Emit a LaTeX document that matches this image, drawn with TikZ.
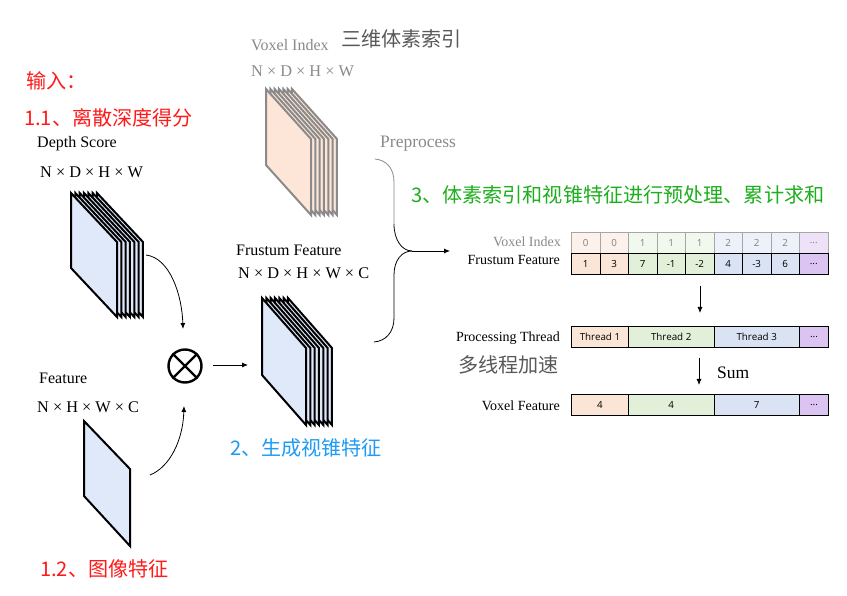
\documentclass[tikz,border=0pt]{standalone}
\usepackage{fontspec}
\setmainfont{Liberation Serif}
\newfontfamily\cjk{Noto Sans CJK SC}
\newfontfamily\cellfont{Open Sans}
\usetikzlibrary{arrows.meta}
\definecolor{peach}{HTML}{FBE5D6}
\definecolor{mint}{HTML}{E2F0D9}
\definecolor{sky}{HTML}{DAE3F3}
\definecolor{violet}{HTML}{DCC4F2}
\definecolor{peachL}{HTML}{FDF2EB}
\definecolor{mintL}{HTML}{F1F8ED}
\definecolor{skyL}{HTML}{EDF1F9}
\definecolor{violetL}{HTML}{EEE2F9}
\definecolor{plane}{HTML}{E0E9FA}
\definecolor{planeO}{HTML}{FDE6D8}
\definecolor{dim}{HTML}{8A8A8A}
\definecolor{cnred}{HTML}{FF1A1A}
\definecolor{cnblue}{HTML}{1E9BF5}
\definecolor{cngreen}{HTML}{1DAF1D}
\definecolor{cngrey}{HTML}{595959}
\newcommand{\elp}{...}
\tikzset{
  lab/.style={font=\fontsize{16}{18}\selectfont,inner sep=0pt,anchor=west},
  dimlab/.style={lab,font=\fontsize{16.3}{18}\selectfont},
  rowlab/.style={font=\fontsize{14}{16}\selectfont,inner sep=0pt,anchor=east},
  cn/.style={font=\fontsize{20.1}{24}\cjk\selectfont,inner sep=0pt,anchor=west},
  cell/.style={draw=black,line width=.9pt,inner sep=0pt,minimum height=21pt,anchor=north west,
     font=\fontsize{9.8}{11}\cellfont\selectfont},
  fadecell/.style={cell,draw=black!35,text=black!50},
  link/.style={line width=.8pt,-{Latex[length=6pt,width=5pt]}},
  plain/.style={line width=.8pt},
}
\newcommand{\stackplanes}[8]{% x,y top-left ; w ; h ; drop ; fill ; edge ; width
  \foreach \i in {6,5,4,3,2,1,0}{
    \draw[line width=#8,line join=miter,draw=#7,fill=#6]
      ({#1+\i*4.33},#2) -- ({#1+\i*4.33+#3},{#2+#5}) -- ({#1+\i*4.33+#3},{#2+#5+#4}) -- ({#1+\i*4.33},{#2+#4}) -- cycle;
  }
}
\begin{document}
\begin{tikzpicture}[x=1pt,y=-1pt]
\useasboundingbox (0,0) rectangle (847,596);
\fill[white] (0,0) rectangle (847,596);

% stacks
\stackplanes{71}{193}{46}{75}{49}{plane}{black}{2pt}
\stackplanes{262}{298}{44}{77}{50}{plane}{black}{2pt}
\stackplanes{266}{89}{45}{76}{50}{planeO}{dim}{2pt}
\draw[line width=2pt,fill=plane] (84,421) -- (130,469) -- (130,546) -- (84,496) -- cycle;

% labels
\node[cn,text=cnred] (tInput) at (26,81) {输入：};
\node[cn,text=cnred] (tDepthCn) at (24,118) {1.1、离散深度得分};
\node[lab] (tDepth) at (37,144) {Depth Score};
\node[dimlab] (tDepthDim) at (40,172) {N × D × H × W};
\node[lab] (tFeat) at (39,378) {Feature};
\node[dimlab] (tFeatDim) at (37,407) {N × H × W × C};
\node[cn,text=cnred] (tImg) at (40,568.5) {1.2、图像特征};
\node[lab,text=dim] (tVox) at (251,45) {Voxel Index};
\node[cn,text=cngrey] (tVoxCn) at (341,39) {三维体素索引};
\node[dimlab,text=dim] (tVoxDim) at (251,71) {N × D × H × W};
\node[lab] (tFru) at (236,250) {Frustum Feature};
\node[dimlab] (tFruDim) at (238,273) {N × D × H × W × C};
\node[cn,text=cnblue] (tGen) at (230,447.5) {2、生成视锥特征};
\node[lab,text=dim,font=\fontsize{17.5}{20}\selectfont] (tPre) at (380,144) {Preprocess};
\node[cn,text=cngreen] (tStep) at (411,194.5) {3、体素索引和视锥特征进行预处理、累计求和};

% multiply
\node[draw,circle,line width=2.4pt,minimum size=33pt,inner sep=0pt] (mul) at (185,366) {};
\draw[line width=2.4pt] (mul.45) -- (mul.225) (mul.135) -- (mul.315);

% arrows around multiply
\coordinate (aS) at (146,255);
\coordinate (aE) at (183,329);
\coordinate (bS) at (150,475);
\coordinate (bE) at (184,406);
\coordinate (cS) at (213,365);
\coordinate (cE) at (248,365);
\draw[link] (aS) .. controls (170,258) and (182,295) .. (aE);
\draw[link] (bS) .. controls (170,467) and (183,440) .. (bE);
\draw[link] (cS) -- (cE);

% merge
\coordinate (vS) at (375,159);
\coordinate (fS) at (374,342);
\coordinate (mJ) at (412,251);
\coordinate (mE) at (450,251);
\draw[line width=.8pt,draw=dim] (vS) .. controls (386,160) and (394,168) .. (394,182) -- (394,224);
\draw[plain] (394,224) .. controls (394,240) and (402,251) .. (mJ);
\draw[plain] (fS) .. controls (386,341) and (394,332) .. (394,318) -- (394,275) .. controls (394,260) and (402,251) .. (mJ);
\draw[link] (mJ) -- (mE);

% table rows
\node[rowlab,text=dim] (rVi) at (561,242) {Voxel Index};
\node[rowlab] (rFf) at (560,260) {Frustum Feature};
\node[rowlab] (rPt) at (560,338.5) {Processing Thread};
\node[cn,text=cngrey] (tThr) at (458,365) {多线程加速};
\node[rowlab] (rVf) at (560,406) {Voxel Feature};
\node[lab,font=\fontsize{17.5}{20}\selectfont] (tSum) at (717,373) {Sum};

\foreach \xp/\cc/\tx/\nn in {571/peachL/0/1,599.5/peachL/0/2,628/mintL/1/3,656.5/mintL/1/4,685/mintL/1/5,713.5/skyL/2/6,742/skyL/2/7,770.5/skyL/2/8,799/violetL/\elp/9}
  \node[fadecell,fill=\cc,minimum width=28.5pt] (vi\nn) at (\xp,232) {\tx};
\foreach \xp/\cc/\tx/\nn in {571/peach/1/1,599.5/peach/3/2,628/mint/7/3,656.5/mint/-1/4,685/mint/-2/5,713.5/sky/4/6,742/sky/-3/7,770.5/sky/6/8,799/violet/\elp/9}
  \node[cell,fill=\cc,minimum width=28.5pt] (ff\nn) at (\xp,253) {\tx};
\foreach \xp/\ww/\cc/\tx/\nn in {571/57/peach/Thread 1/1,628/85.5/mint/Thread 2/2,713.5/85.5/sky/Thread 3/3,799/29/violet/\elp/4}
  \node[cell,fill=\cc,minimum width=\ww pt] (pt\nn) at (\xp,326) {\tx};
\foreach \xp/\ww/\cc/\tx/\nn in {571/57/peach/4/1,628/85.5/mint/4/2,713.5/85.5/sky/7/3,799/29/violet/\elp/4}
  \node[cell,fill=\cc,minimum width=\ww pt] (vf\nn) at (\xp,394) {\tx};

\coordinate (dA) at (700,286);
\coordinate (dB) at (700,313);
\coordinate (eA) at (699,358);
\coordinate (eB) at (699,385);
\draw[link] (dA) -- (dB);
\draw[link] (eA) -- (eB);
\end{tikzpicture}
\end{document}
